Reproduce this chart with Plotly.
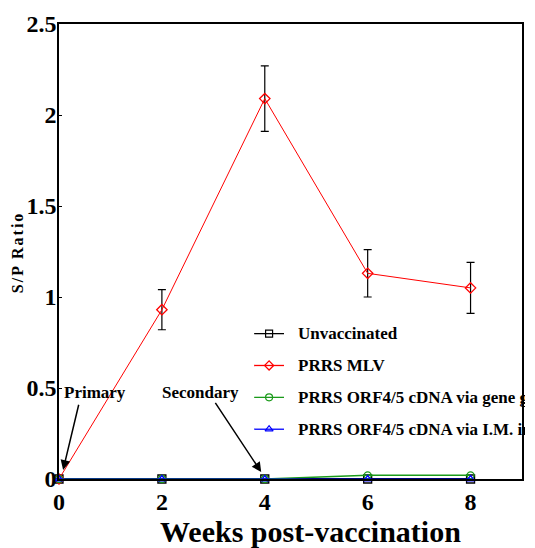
import plotly.graph_objects as go

# ---- data ----
weeks = [0, 2, 4, 6, 8]
unvaccinated = [0, 0, 0, 0, 0]
mlv = [0, 0.93, 2.09, 1.13, 1.05]
mlv_err = [0, 0.11, 0.18, 0.13, 0.14]
gene_gun = [0, 0, 0, 0.02, 0.02]
im_inj = [0, 0, 0, 0, 0]

names = ["Unvaccinated", "PRRS MLV", "PRRS ORF4/5 cDNA via gene gun",
         "PRRS ORF4/5 cDNA via I.M. injection"]
colors = ["black", "#ff0000", "#1a9a1a", "#0000ff"]
symbols = ["square-open", "diamond-open", "circle-open", "triangle-up-open"]
x_ticks = [0, 2, 4, 6, 8]
y_ticks = [0, 0.5, 1, 1.5, 2, 2.5]
y_tick_text = ["0", "0.5", "1", "1.5", "2", "2.5"]

font = "Liberation Serif"
fig = go.Figure()

series = [unvaccinated, mlv, gene_gun, im_inj]
widths = [2, 1, 1.5, 1]
msizes = [8, 8, 7, 7]
for i, ys in enumerate(series):
    kw = {}
    if i == 1:
        kw["error_y"] = dict(type="data", array=mlv_err, color="black", thickness=1.2, width=4)
    fig.add_trace(go.Scatter(
        x=weeks, y=ys, name=names[i], mode="lines+markers", showlegend=False,
        line=dict(color=colors[i], width=widths[i]),
        marker=dict(symbol=symbols[i], size=msizes[i], color=colors[i], line=dict(width=1.3)),
        cliponaxis=False, **kw))

# ---- manual legend (overlay axis in plot-fraction units) ----
leg_x0, leg_x1 = 0.4215, 0.486
leg_rows = [0.3195, 0.2495, 0.1794, 0.1094]
for i in range(4):
    yy = leg_rows[i]
    fig.add_trace(go.Scatter(
        x=[leg_x0, (leg_x0 + leg_x1) / 2, leg_x1], y=[yy, yy, yy], xaxis="x2", yaxis="y2",
        mode="lines+markers", showlegend=False, hoverinfo="skip",
        line=dict(color=colors[i], width=1.3),
        marker=dict(symbol=symbols[i], size=[0, 7, 0], opacity=[0, 1, 0], color=colors[i],
                    line=dict(width=1.2)),
        cliponaxis=False))

anns = []
for i in range(4):
    anns.append(dict(x=0.5118, y=leg_rows[i], xref="x2", yref="y2", text="<b>" + names[i] + "</b>",
                     showarrow=False, xanchor="left", yanchor="middle", align="left", width=227,
                     font=dict(family=font, size=17, color="black")))

anns += [
    dict(x=0.08, y=0.05, xref="x", yref="y", ax=0.39, ay=0.416, axref="x", ayref="y",
         text="", showarrow=True, arrowhead=2, arrowsize=1.3, arrowwidth=1.5, arrowcolor="black", standoff=0),
    dict(x=3.93, y=0.038, xref="x", yref="y", ax=3.02, ay=0.427, axref="x", ayref="y",
         text="", showarrow=True, arrowhead=2, arrowsize=1.3, arrowwidth=1.5, arrowcolor="black", standoff=0),
    dict(x=0.06, y=0.476, xref="x", yref="y", text="<b>Primary</b>", showarrow=False,
         xanchor="left", yanchor="middle", font=dict(family=font, size=17, color="black")),
    dict(x=1.97, y=0.476, xref="x", yref="y", text="<b>Secondary</b>", showarrow=False,
         xanchor="left", yanchor="middle", font=dict(family=font, size=17, color="black")),
    dict(x=0.544, y=-0.116, xref="paper", yref="paper", text="<b>Weeks post-vaccination</b>",
         showarrow=False, xanchor="center", yanchor="middle",
         font=dict(family=font, size=30, color="black")),
    dict(x=-0.088, y=0.499, xref="paper", yref="paper",
         text="<b><span style='letter-spacing:2px'>S/P Ratio</span></b>", textangle=-90,
         showarrow=False, xanchor="center", yanchor="middle",
         font=dict(family=font, size=16, color="black")),
]

fig.update_layout(
    width=535, height=548,
    margin=dict(l=59, r=11, t=22, b=69),
    plot_bgcolor="white", paper_bgcolor="white",
    font=dict(family=font, color="black"),
    showlegend=False,
    annotations=anns,
    xaxis=dict(range=[0, 9], tickvals=x_ticks, ticktext=["<b>%d</b>" % v for v in x_ticks],
               ticks="", showgrid=False, zeroline=False,
               showline=True, linecolor="black", linewidth=1.5, mirror=True,
               tickfont=dict(family=font, size=24, color="black")),
    yaxis=dict(range=[0, 2.5], tickvals=y_ticks, ticktext=["<b>%s</b>" % t for t in y_tick_text],
               ticks="inside", ticklen=3, tickcolor="black", showgrid=False, zeroline=False,
               showline=True, linecolor="black", linewidth=1.5, mirror=True,
               ticklabelstandoff=-4,
               tickfont=dict(family=font, size=24, color="black")),
    xaxis2=dict(overlaying="x", range=[0, 1], visible=False, fixedrange=True),
    yaxis2=dict(overlaying="y", range=[0, 1], visible=False, fixedrange=True),
)

fig.write_html("out.html", config={"displayModeBar": False},
               post_script="document.body.style.margin='0px';")
